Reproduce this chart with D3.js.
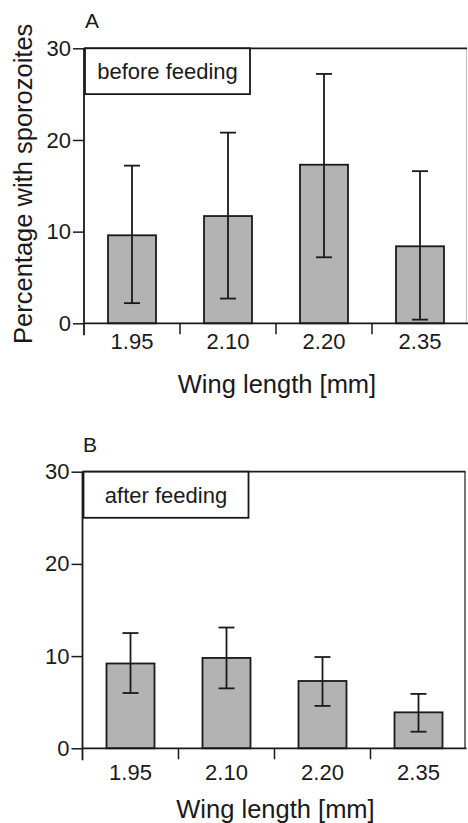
<html>
<head>
<script src="https://cdnjs.cloudflare.com/ajax/libs/d3/7.8.5/d3.min.js"></script>
<style>
  body { margin: 0; background: #fff; }
  svg { font-family: "Liberation Sans", Arial, sans-serif; }
</style>
</head>
<body>
<div id="chart"></div>
<script>
var wingLengths = ["1.95", "2.10", "2.20", "2.35"];
var yTicks = [0, 10, 20, 30];

var beforeMean = [9.6, 11.7, 17.3, 8.4];
var beforeLow  = [2.2, 2.7, 7.2, 0.4];
var beforeHigh = [17.2, 20.8, 27.2, 16.6];

var afterMean = [9.2, 9.8, 7.3, 3.9];
var afterLow  = [6.0, 6.5, 4.6, 1.8];
var afterHigh = [12.5, 13.1, 9.9, 5.9];

var ink = "#1a1a1a";
var barFill = "#b3b3b3";

var svg = d3.select("#chart").append("svg")
  .attr("width", 468)
  .attr("height", 823);

/* one panel = one small bar chart with error bars */
function panel(o) {
  var g = svg.append("g");

  var x = d3.scaleBand()
    .domain(wingLengths)
    .range([o.left, o.left + 384]);

  var y = d3.scaleLinear()
    .domain([0, 30])
    .range([o.bottom, o.top]);

  var barW = x.bandwidth() * 0.5;
  var rows = wingLengths.map((k, i) => ({k: k, m: o.mean[i], lo: o.low[i], hi: o.high[i]}));

  // bars
  g.selectAll(".bar")
    .data(rows).enter()
    .append("rect")
    .attr("x", d => x(d.k) + (x.bandwidth() - barW) / 2)
    .attr("y", d => y(d.m))
    .attr("width", barW)
    .attr("height", d => y(0) - y(d.m))
    .attr("fill", barFill)
    .attr("stroke", ink)
    .attr("stroke-width", 1.8);

  // error bars
  var eb = g.selectAll(".err")
    .data(rows).enter()
    .append("g")
    .attr("stroke", ink)
    .attr("stroke-width", 1.8);
  eb.append("line")
    .attr("x1", d => x(d.k) + x.bandwidth() / 2)
    .attr("x2", d => x(d.k) + x.bandwidth() / 2)
    .attr("y1", d => y(d.lo))
    .attr("y2", d => y(d.hi));
  eb.append("line")
    .attr("x1", d => x(d.k) + x.bandwidth() / 2 - 8)
    .attr("x2", d => x(d.k) + x.bandwidth() / 2 + 8)
    .attr("y1", d => y(d.hi))
    .attr("y2", d => y(d.hi));
  eb.append("line")
    .attr("x1", d => x(d.k) + x.bandwidth() / 2 - 8)
    .attr("x2", d => x(d.k) + x.bandwidth() / 2 + 8)
    .attr("y1", d => y(d.lo))
    .attr("y2", d => y(d.lo));

  // frame: top and right
  g.append("line")
    .attr("x1", o.left).attr("x2", o.left + 383)
    .attr("y1", y(30)).attr("y2", y(30))
    .attr("stroke", ink).attr("stroke-width", 1.8);
  g.append("line")
    .attr("x1", o.left + 382.5).attr("x2", o.left + 382.5)
    .attr("y1", y(30)).attr("y2", y(0))
    .attr("stroke", ink).attr("stroke-width", 1.2).attr("opacity", o.rightOpacity);

  // y axis
  var yAxis = d3.axisLeft(y).tickValues(yTicks).tickSize(11).tickPadding(2);
  var ya = g.append("g")
    .attr("transform", `translate(${o.left}, 0)`)
    .call(yAxis);
  ya.select(".domain").remove();
  ya.selectAll("line").attr("stroke", ink).attr("stroke-width", 1.5);
  ya.selectAll("text")
    .attr("font-size", "22px")
    .attr("font-family", "Liberation Sans, Arial, sans-serif")
    .attr("fill", ink);
  g.append("line")
    .attr("x1", o.left).attr("x2", o.left)
    .attr("y1", y(30)).attr("y2", y(0) + 12)
    .attr("stroke", ink).attr("stroke-width", 1.8);

  // x axis: labels centred in bands, ticks at band edges
  var xAxis = d3.axisBottom(x).tickSize(0).tickPadding(o.labelPad);
  var xa = g.append("g")
    .attr("transform", `translate(0, ${y(0)})`)
    .call(xAxis);
  xa.select(".domain").remove();
  xa.selectAll("text")
    .attr("font-size", "22px")
    .attr("font-family", "Liberation Sans, Arial, sans-serif")
    .attr("fill", ink);
  g.append("line")
    .attr("x1", o.left).attr("x2", o.left + 384)
    .attr("y1", y(0)).attr("y2", y(0))
    .attr("stroke", ink).attr("stroke-width", 1.8);
  g.selectAll(".xtick")
    .data(wingLengths.slice(1)).enter()
    .append("line")
    .attr("x1", d => x(d)).attr("x2", d => x(d))
    .attr("y1", y(0)).attr("y2", y(0) + 11)
    .attr("stroke", ink).attr("stroke-width", 1.5);

  g.append("text")
    .attr("x", o.left + 193)
    .attr("y", o.xTitleY)
    .attr("text-anchor", "middle")
    .attr("font-size", "25.5px")
    .attr("fill", ink)
    .text("Wing length [mm]");

  // legend box
  g.append("rect")
    .attr("x", o.left + 1)
    .attr("y", y(30))
    .attr("width", 165)
    .attr("height", y(25) - y(30))
    .attr("fill", "#fff")
    .attr("stroke", ink)
    .attr("stroke-width", 1.8);
  g.append("text")
    .attr("x", o.left + 83.5)
    .attr("y", o.legendY)
    .attr("text-anchor", "middle")
    .attr("font-size", "22px")
    .attr("fill", ink)
    .text(o.legend);

  // panel letter
  g.append("text")
    .attr("x", o.letterX)
    .attr("y", o.letterY)
    .attr("font-size", "21px")
    .attr("fill", ink)
    .text(o.letter);

  return y;
}

var yA = panel({
  left: 84, top: 48.3, bottom: 323.3,
  mean: beforeMean, low: beforeLow, high: beforeHigh,
  legend: "before feeding", legendY: 79,
  letter: "A", letterX: 85, letterY: 27.5,
  labelPad: 10, xTitleY: 393, rightOpacity: 0.25
});

panel({
  left: 82.5, top: 471.7, bottom: 748.3,
  mean: afterMean, low: afterLow, high: afterHigh,
  legend: "after feeding", legendY: 503,
  letter: "B", letterX: 83, letterY: 452,
  labelPad: 16, xTitleY: 818, rightOpacity: 1
});

svg.append("text")
  .attr("transform", `translate(32, ${(yA(30) + yA(0)) / 2 - 2}) rotate(-90)`)
  .attr("text-anchor", "middle")
  .attr("font-size", "25.5px")
  .attr("fill", ink)
  .text("Percentage with sporozoites");
</script>
</body>
</html>
